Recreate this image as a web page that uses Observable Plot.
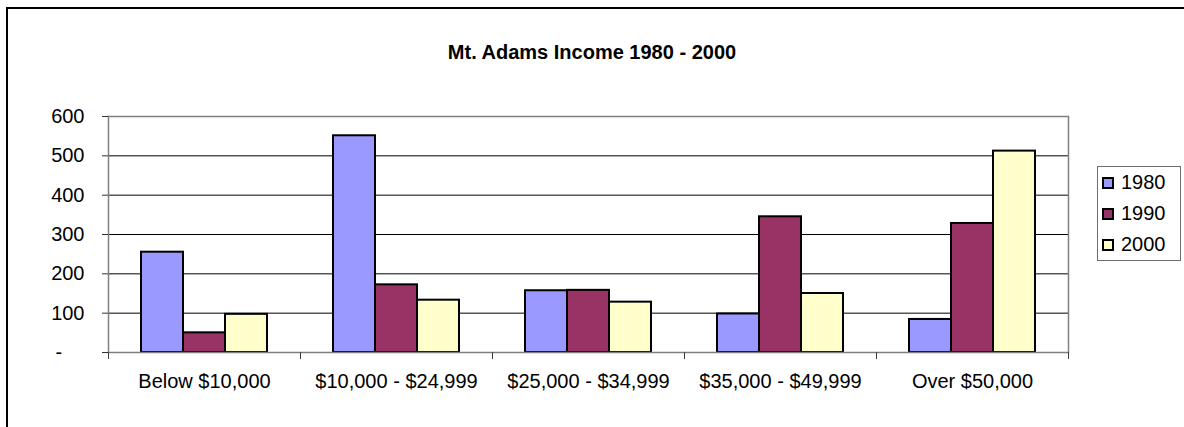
<!DOCTYPE html>
<html>
<head>
<meta charset="utf-8">
<script src="https://cdn.jsdelivr.net/npm/d3@7"></script>
<script src="https://cdn.jsdelivr.net/npm/@observablehq/plot@0.6"></script>
<style>
  html, body { margin: 0; padding: 0; background: #fff; overflow: hidden; }
  body { width: 1184px; height: 427px; position: relative; font-family: "Liberation Sans", Arial, sans-serif; }
  #title { height: 96px; box-sizing: border-box; padding-top: 42px; text-align: center;
           font-size: 20px; line-height: 20px; font-weight: bold; color: #000; }
  #border { position: absolute; left: 6px; top: 7px; width: 1300px; height: 600px;
            border: 2px solid #000; pointer-events: none; }
  #legend { position: absolute; left: 1097px; top: 166px; width: 82px; height: 93px;
            border: 1px solid #6e6e6e; background: #fff; }
  .row { height: 31px; display: flex; align-items: center; font-size: 20px; color: #000; }
  .sw { width: 12px; height: 12px; box-sizing: border-box; border: 2px solid #000;
        margin-left: 4px; margin-right: 7px; }
  #chart svg { display: block; }
</style>
</head>
<body>
<div id="border"></div>
<div id="title"></div>
<div id="chart"></div>
<div id="legend"></div>
<script>
const titleText = "Mt. Adams Income 1980 - 2000";
const categories = ["Below $10,000", "$10,000 - $24,999", "$25,000 - $34,999", "$35,000 - $49,999", "Over $50,000"];
const series = ["1980", "1990", "2000"];
const values1980 = [255, 551, 157, 98, 84];
const values1990 = [50, 172, 158, 345, 328];
const values2000 = [97, 133, 128, 150, 512];
const seriesColors = ["#9999FF", "#993366", "#FFFFCC"];
const yTicks = [0, 100, 200, 300, 400, 500, 600];
const gridValues = [100, 200, 300, 400, 500];

const seriesValues = [values1980, values1990, values2000];
const table = [];
categories.forEach((c, i) => {
  series.forEach((s, j) => table.push({category: c, year: s, value: seriesValues[j][i]}));
});

document.getElementById("title").textContent = titleText;

const H = 331, MT = 20, MB = 75;
const plotH = H - MT - MB;

const chart = Plot.plot({
  width: 1184,
  height: H,
  marginLeft: 106,
  marginRight: 115,
  marginTop: MT,
  marginBottom: MB,
  style: {fontFamily: '"Liberation Sans", Arial, sans-serif', fontSize: "20px", color: "#000", background: "transparent"},
  fx: {domain: categories, paddingInner: 0, paddingOuter: 0, axis: null, label: null},
  x: {domain: series, paddingInner: 0, paddingOuter: 0.74, axis: null, label: null},
  y: {domain: [0, 600], axis: null, label: null},
  color: {domain: series, range: seriesColors},
  marks: [
    Plot.ruleY(gridValues, {stroke: "#000", strokeWidth: 1}),
    Plot.ruleY([600], {stroke: "#808080", strokeWidth: 1.5}),
    Plot.barY(table, {fx: "category", x: "year", y: "value", fill: "year", stroke: "#000", strokeWidth: 2}),
    Plot.ruleY([0], {stroke: "#808080", strokeWidth: 1.5}),
    Plot.frame({anchor: "left", facetAnchor: "left", stroke: "#808080", strokeWidth: 1.5}),
    Plot.frame({anchor: "right", facetAnchor: "right", stroke: "#808080", strokeWidth: 1.5}),
    Plot.frame({anchor: "left", insetTop: plotH, insetBottom: -6, stroke: "#404040", strokeWidth: 1}),
    Plot.frame({anchor: "right", facetAnchor: "right", insetTop: plotH, insetBottom: -6, stroke: "#404040", strokeWidth: 1}),
    Plot.axisY({ticks: yTicks, tickFormat: d => d === 0 ? "-\u2007\u2007" : String(d), tickSize: 6, tickPadding: 18,
                label: null, fontSize: 20, stroke: "#333", fill: "#000"}),
    Plot.axisFx({anchor: "bottom", tickSize: 0, tickPadding: 21, label: null, fontSize: 20, fill: "#000"})
  ]
});
document.getElementById("chart").appendChild(chart);

const legend = document.getElementById("legend");
series.forEach((s, j) => {
  const row = document.createElement("div");
  row.className = "row";
  const sw = document.createElement("div");
  sw.className = "sw";
  sw.style.background = seriesColors[j];
  const t = document.createElement("span");
  t.textContent = s;
  row.appendChild(sw);
  row.appendChild(t);
  legend.appendChild(row);
});
</script>
</body>
</html>
